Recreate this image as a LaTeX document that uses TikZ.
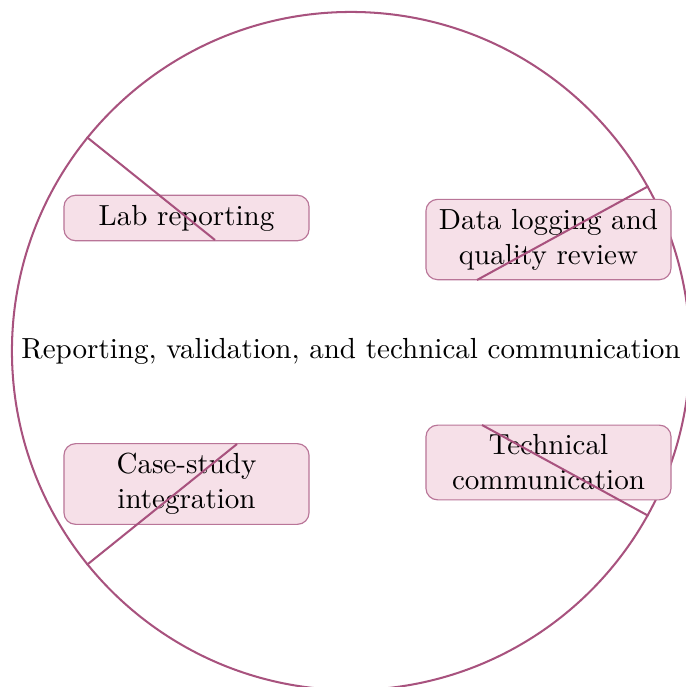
\documentclass[tikz,border=0pt]{standalone}
\definecolor{plum}{RGB}{168,82,126}
\definecolor{pinkfill}{RGB}{246,224,232}
\tikzset{
  hub/.style={circle, draw=plum, line width=0.7pt, minimum size=233.4pt, inner sep=0pt},
  topic/.style={rectangle, rounded corners=4pt, draw=plum!80, line width=0.4pt, fill=pinkfill,
    text width=77.7pt, align=center, inner sep=3.33pt},
  spoke/.style={draw=plum, line width=0.7pt}
}
\begin{document}
\begin{tikzpicture}[x=0.3442pt,y=-0.3442pt]
\useasboundingbox (0,0) rectangle (686,687);
\node[hub] (c) at (351,351) {Reporting, validation, and technical communication};
\node[topic] (lab) at (186.5,218) {Lab reporting};
\node[topic] (data) at (548.5,239.5) {Data logging and quality review};
\node[topic] (case) at (186.5,484) {Case-study integration};
\node[topic] (tech) at (548.5,462.5) {Technical communication};
\coordinate (e1) at (215,240);
\coordinate (e2) at (477,280);
\coordinate (e3) at (237,444);
\coordinate (e4) at (482,425);
\draw[spoke] (c.141) -- (e1);
\draw[spoke] (c.29.3) -- (e2);
\draw[spoke] (c.219) -- (e3);
\draw[spoke] (c.-29.5) -- (e4);
\end{tikzpicture}
\end{document}
